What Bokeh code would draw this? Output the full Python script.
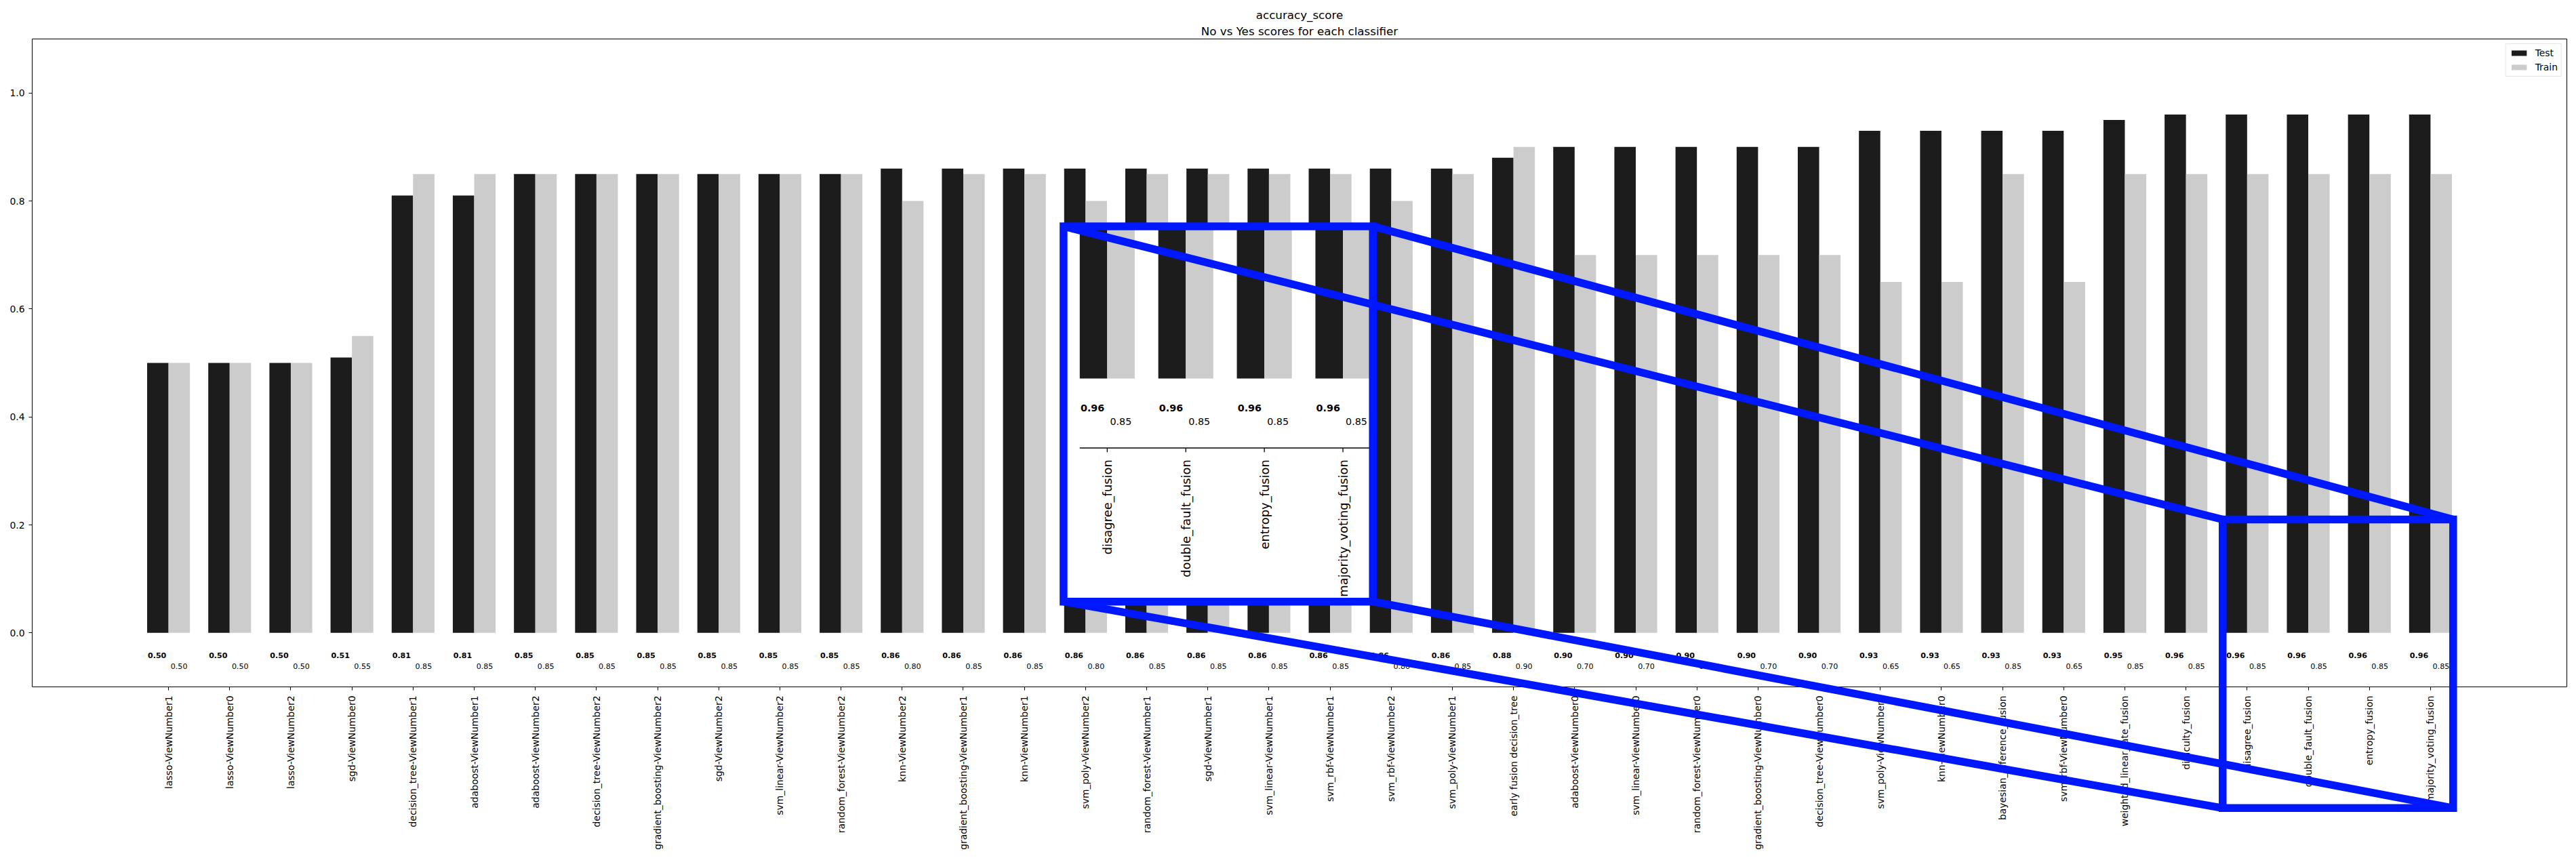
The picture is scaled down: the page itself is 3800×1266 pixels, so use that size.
import math
from bokeh.plotting import figure
from bokeh.models import (Range1d, FixedTicker, Title, Legend, LegendItem, LinearAxis,
                          PolyAnnotation, Arrow, PrintfTickFormatter)
from bokeh.core.properties import value
from bokeh.embed import file_html
from bokeh.resources import INLINE

# ---------------- data ----------------
classifiers = [
    "lasso-ViewNumber1", "lasso-ViewNumber0", "lasso-ViewNumber2", "sgd-ViewNumber0",
    "decision_tree-ViewNumber1", "adaboost-ViewNumber1", "adaboost-ViewNumber2",
    "decision_tree-ViewNumber2", "gradient_boosting-ViewNumber2", "sgd-ViewNumber2",
    "svm_linear-ViewNumber2", "random_forest-ViewNumber2", "knn-ViewNumber2",
    "gradient_boosting-ViewNumber1", "knn-ViewNumber1", "svm_poly-ViewNumber2",
    "random_forest-ViewNumber1", "sgd-ViewNumber1", "svm_linear-ViewNumber1",
    "svm_rbf-ViewNumber1", "svm_rbf-ViewNumber2", "svm_poly-ViewNumber1",
    "early fusion decision_tree", "adaboost-ViewNumber0", "svm_linear-ViewNumber0",
    "random_forest-ViewNumber0", "gradient_boosting-ViewNumber0", "decision_tree-ViewNumber0",
    "svm_poly-ViewNumber0", "knn-ViewNumber0", "bayesian_inference_fusion",
    "svm_rbf-ViewNumber0", "weighted_linear_late_fusion", "difficulty_fusion",
    "disagree_fusion", "double_fault_fusion", "entropy_fusion", "majority_voting_fusion",
]
test_scores = [0.50, 0.50, 0.50, 0.51, 0.81, 0.81, 0.85, 0.85, 0.85, 0.85, 0.85, 0.85,
               0.86, 0.86, 0.86, 0.86, 0.86, 0.86, 0.86, 0.86, 0.86, 0.86, 0.88, 0.90,
               0.90, 0.90, 0.90, 0.90, 0.93, 0.93, 0.93, 0.93, 0.95, 0.96, 0.96, 0.96,
               0.96, 0.96]
train_scores = [0.50, 0.50, 0.50, 0.55, 0.85, 0.85, 0.85, 0.85, 0.85, 0.85, 0.85, 0.85,
                0.80, 0.85, 0.85, 0.80, 0.85, 0.85, 0.85, 0.85, 0.80, 0.85, 0.90, 0.70,
                0.70, 0.70, 0.70, 0.70, 0.65, 0.65, 0.85, 0.65, 0.85, 0.85, 0.85, 0.85,
                0.85, 0.85]
series_names = ["Test", "Train"]
y_ticks = [0.0, 0.2, 0.4, 0.6, 0.8, 1.0]
title_text = "accuracy_score"
subtitle_text = "No vs Yes scores for each classifier"
zoomed_classifiers = ["disagree_fusion", "double_fault_fusion", "entropy_fusion",
                      "majority_voting_fusion"]

# ---------------- style / layout ----------------
FONT = "DejaVu Sans"
TEST_COLOR = "#1c1c1c"
TRAIN_COLOR = "#cccccc"
BLUE = "#0018ff"
BLUE_W = 11.5
BAR_W = 0.35
FIG_W, FIG_H = 3792, 1258
MIN_TOP, MIN_LEFT, MIN_RIGHT = 57, 47, 6
X_RANGE = (-2.23, 39.23)
AXIS_BOX_Y = (-0.1, 1.1)          # the visible axes box
PX_PER_Y = 956 / 1.2
# frame extends below the axes box so that the zoom connectors can be drawn there
Y_RANGE = (AXIS_BOX_Y[1] - (FIG_H - MIN_TOP) / PX_PER_Y, AXIS_BOX_Y[1])
BOLD_DX, LIGHT_DX = -0.34, 0.035
BOLD_Y, LIGHT_Y = -0.042, -0.062

# zoom inset: source region (data units) and where it is drawn
SRC_BOX = (33.60, 37.37, -0.3245, 0.210)      # x0, x1, y0, y1
INSET_BOX = (14.64, 19.70, 0.058, 0.753)
INSET_SCALE = 1.285
SRC_ANCHOR = (33.65, 0.0)
INSET_ANCHOR = (14.905, 0.471)


def tx(x):
    return INSET_ANCHOR[0] + INSET_SCALE * (x - SRC_ANCHOR[0])


def ty(y):
    return INSET_ANCHOR[1] + INSET_SCALE * (y - SRC_ANCHOR[1])


n = len(classifiers)
idx = list(range(n))

p = figure(width=FIG_W, height=FIG_H, output_backend="svg", toolbar_location=None,
           x_range=Range1d(*X_RANGE), y_range=Range1d(*Y_RANGE),
           min_border_left=MIN_LEFT, min_border_right=MIN_RIGHT, min_border_top=MIN_TOP,
           min_border_bottom=0)
main_x = p.below[0]
main_y = p.left[0]
p.background_fill_color = "white"
p.border_fill_color = "white"
p.outline_line_color = None
p.xgrid.visible = False
p.ygrid.visible = False

# top border of the axes box (closest to the frame), then subtitle, then title
top_axis = LinearAxis(ticker=FixedTicker(ticks=[]), major_tick_out=0, major_tick_in=0,
                      major_label_standoff=0, minor_tick_line_color=None,
                      axis_line_color="black", axis_line_width=1)
p.add_layout(top_axis, "above")
p.add_layout(Title(text=subtitle_text, align="center", text_font=FONT, text_font_size="16.7px",
                   text_font_style="normal", text_color="black", standoff=4), "above")
p.add_layout(Title(text=title_text, align="center", text_font=FONT, text_font_size="16.7px",
                   text_font_style="normal", text_color="black", standoff=0), "above")
right_axis = LinearAxis(ticker=FixedTicker(ticks=[]), bounds=AXIS_BOX_Y, major_tick_out=0,
                        major_tick_in=0, major_label_standoff=0, minor_tick_line_color=None,
                        axis_line_color="black", axis_line_width=1)
p.add_layout(right_axis, "right")

# axes
main_x.fixed_location = AXIS_BOX_Y[0]
main_x.ticker = FixedTicker(ticks=idx)
main_x.major_label_overrides = {i: c for i, c in enumerate(classifiers)}
main_x.major_label_orientation = math.pi / 2
main_x.major_label_standoff = 8
main_y.ticker = FixedTicker(ticks=y_ticks)
main_y.formatter = PrintfTickFormatter(format="%.1f")
main_y.major_label_standoff = 6
main_y.bounds = AXIS_BOX_Y
for ax in (main_x, main_y):
    ax.major_label_text_font = FONT
    ax.major_label_text_font_size = "13.9px"
    ax.major_label_text_color = "black"
    ax.major_tick_in = 0
    ax.major_tick_out = 5
    ax.major_tick_line_color = "black"
    ax.minor_tick_line_color = None
    ax.axis_line_color = "black"
    ax.axis_line_width = 1

# main bars
r_test = p.vbar(x=[i - BAR_W / 2 for i in idx], top=test_scores, bottom=0, width=BAR_W,
                fill_color=TEST_COLOR, line_color=None)
r_train = p.vbar(x=[i + BAR_W / 2 for i in idx], top=train_scores, bottom=0, width=BAR_W,
                 fill_color=TRAIN_COLOR, line_color=None)

p.text(x=[i + BOLD_DX for i in idx], y=[BOLD_Y] * n, text=[f"{v:.2f}" for v in test_scores],
       text_font=value(FONT), text_font_size="11.1px", text_font_style="bold",
       text_align="left", text_baseline="middle", text_color="black")
p.text(x=[i + LIGHT_DX for i in idx], y=[LIGHT_Y] * n, text=[f"{v:.2f}" for v in train_scores],
       text_font=value(FONT), text_font_size="11.1px", text_font_style="normal",
       text_align="left", text_baseline="middle", text_color="black")

legend = Legend(items=[LegendItem(label=series_names[0], renderers=[r_test]),
                       LegendItem(label=series_names[1], renderers=[r_train])],
                location="top_right", margin=7, padding=5, spacing=5,
                glyph_width=28, glyph_height=10, label_standoff=10, label_height=16,
                label_text_font=FONT, label_text_font_size="13.9px", label_text_color="black",
                border_line_color="#cccccc", border_line_width=1,
                background_fill_color="white", background_fill_alpha=0.8)
p.add_layout(legend)

# ---------------- zoom inset ----------------
ix0, ix1, iy0, iy1 = INSET_BOX
p.quad(left=[ix0], right=[ix1], bottom=[iy0], top=[iy1], fill_color="white", line_color=None)

zi = [classifiers.index(c) for c in zoomed_classifiers]
zt = [test_scores[i] for i in zi]
zr = [train_scores[i] for i in zi]
p.quad(left=[tx(i - BAR_W) for i in zi], right=[tx(i) for i in zi],
       bottom=[ty(0)] * len(zi), top=[min(ty(v), iy1) for v in zt],
       fill_color=TEST_COLOR, line_color=None)
p.quad(left=[tx(i) for i in zi], right=[tx(i + BAR_W) for i in zi],
       bottom=[ty(0)] * len(zi), top=[min(ty(v), iy1) for v in zr],
       fill_color=TRAIN_COLOR, line_color=None)
zfs = f"{11.1 * INSET_SCALE:.1f}px"
p.text(x=[tx(i + BOLD_DX) for i in zi], y=[ty(BOLD_Y)] * len(zi), text=[f"{v:.2f}" for v in zt],
       text_font=value(FONT), text_font_size=zfs, text_font_style="bold",
       text_align="left", text_baseline="middle", text_color="black")
p.text(x=[tx(i + LIGHT_DX) for i in zi], y=[ty(LIGHT_Y)] * len(zi), text=[f"{v:.2f}" for v in zr],
       text_font=value(FONT), text_font_size=zfs, text_font_style="normal",
       text_align="left", text_baseline="middle", text_color="black")
axis_y = AXIS_BOX_Y[0]
p.segment(x0=[tx(SRC_ANCHOR[0])], y0=[ty(axis_y)], x1=[ix1], y1=[ty(axis_y)],
          line_color="black", line_width=1.3)
tick_len = 4.86 / PX_PER_Y
p.segment(x0=[tx(i) for i in zi], y0=[ty(axis_y)] * len(zi), x1=[tx(i) for i in zi],
          y1=[ty(axis_y - tick_len)] * len(zi), line_color="black", line_width=1.3)
label_top = axis_y - 13.4 / PX_PER_Y
p.text(x=[tx(i) for i in zi], y=[ty(label_top)] * len(zi), text=zoomed_classifiers,
       angle=math.pi / 2, text_font=value(FONT), text_font_size=f"{13.9 * INSET_SCALE:.1f}px",
       text_align="right", text_baseline="middle", text_color="black")

# blue frames and connectors
sx0, sx1, sy0, sy1 = SRC_BOX
for (a0, a1, b0, b1) in (SRC_BOX, INSET_BOX):
    p.add_layout(PolyAnnotation(xs=[a0, a1, a1, a0], ys=[b1, b1, b0, b0], fill_alpha=0,
                                line_color=BLUE, line_alpha=1, line_width=BLUE_W,
                                line_join="miter"))
for (xa, ya, xb, yb) in ((ix0, iy1, sx0, sy1), (ix1, iy1, sx1, sy1),
                         (ix0, iy0, sx0, sy0), (ix1, iy0, sx1, sy0)):
    p.add_layout(Arrow(end=None, x_start=xa, y_start=ya, x_end=xb, y_end=yb,
                       line_color=BLUE, line_width=BLUE_W))

open("out.html", "w").write(file_html(p, INLINE))
